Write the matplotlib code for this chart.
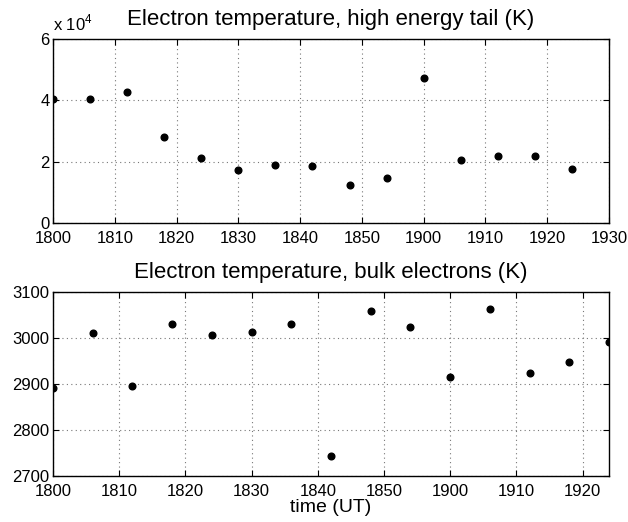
import numpy as np
import matplotlib
matplotlib.use("Agg")
import matplotlib.pyplot as plt
from matplotlib.ticker import FuncFormatter

plt.rcParams["font.family"] = ["Liberation Sans", "DejaVu Sans"]
plt.rcParams["mathtext.fontset"] = "custom"
plt.rcParams["mathtext.rm"] = "Liberation Sans"

# ========================================
# data (time in HHMM UT)
# ========================================
times = [1800, 1806, 1812, 1818, 1824, 1830, 1836, 1842, 1848, 1854,
         1900, 1906, 1912, 1918, 1924]
te_tail = [40300, 40300, 42600, 28000, 21100, 17300, 18800, 18600, 12400,
           14800, 47400, 20400, 21700, 22000, 17500]  # K
te_bulk = [2891, 3010, 2895, 3030, 3006, 3014, 3030, 2743, 3059, 3025,
           2915, 3062, 2923, 2948, 2991]  # K

tick_top = [1800, 1810, 1820, 1830, 1840, 1850, 1900, 1910, 1920, 1930]
tick_bot = [1800, 1810, 1820, 1830, 1840, 1850, 1900, 1910, 1920]


def hhmm_to_min(t):
    return (t // 100 - 18) * 60 + t % 100


x = np.array([hhmm_to_min(t) for t in times])

fig = plt.figure(figsize=(6.28, 5.22), dpi=100)
ax1 = fig.add_axes([0.0844, 0.5728, 0.8854, 0.3525])
ax2 = fig.add_axes([0.0844, 0.0881, 0.8854, 0.3525])


def style(ax, ticks):
    ax.set_xticks([hhmm_to_min(t) for t in ticks])
    ax.set_xticklabels([str(t) for t in ticks])
    ax.grid(True, linestyle=(0, (1, 3)), color="#777777", linewidth=0.8)
    ax.tick_params(direction="in", top=True, right=True, length=4,
                   labelsize=12)
    ax.tick_params(axis="x", pad=6)
    ax.tick_params(axis="y", pad=2.5)
    for s in ax.spines.values():
        s.set_linewidth(1.0)


# ------- top: high energy tail -------
ax1.plot(x, te_tail, "o", color="k", markersize=4.8)
ax1.set_xlim(0, 90)
ax1.set_ylim(0, 60000)
ax1.set_yticks([0, 20000, 40000, 60000])
ax1.yaxis.set_major_formatter(FuncFormatter(lambda v, p: "%g" % (v / 1e4)))
style(ax1, tick_top)
ax1.set_title("Electron temperature, high energy tail (K)", fontsize=16, pad=10)
ax1.text(0.0, 1.03, r"x 10$^{4}$", transform=ax1.transAxes, fontsize=12,
         ha="left", va="bottom")

# ------- bottom: bulk electrons -------
ax2.plot(x, te_bulk, "o", color="k", markersize=4.8)
ax2.set_xlim(0, 84)
ax2.set_ylim(2700, 3100)
ax2.set_yticks([2700, 2800, 2900, 3000, 3100])
style(ax2, tick_bot)
ax2.set_title("Electron temperature, bulk electrons (K)", fontsize=16, pad=10)
ax2.set_xlabel("time (UT)", fontsize=14, labelpad=0)

fig.savefig("out.png", dpi=100)
